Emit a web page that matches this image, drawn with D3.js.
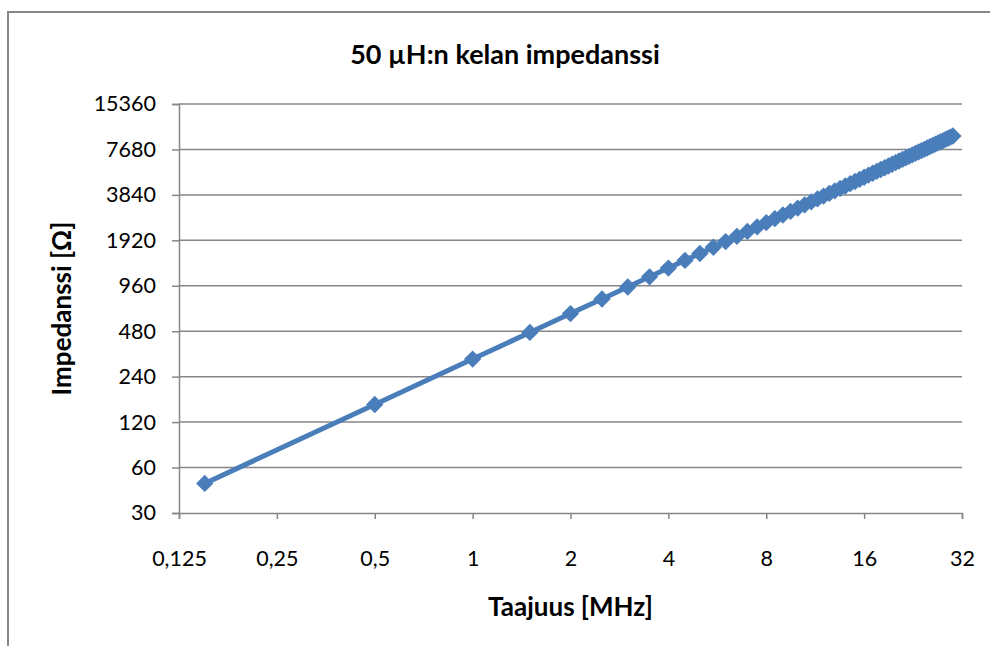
<!DOCTYPE html>
<html>
<head>
<meta charset="utf-8">
<script src="https://cdn.jsdelivr.net/npm/d3@7"></script>
<style>
  body { margin: 0; background: #fff; }
  text { font-family: Lato, "Open Sans", sans-serif; fill: #000; }
</style>
</head>
<body>
<div id="chart"></div>
<script>
// chart data: frequency in MHz, impedance in ohms
var frequencies = [0.15, 0.5, 1, 1.5, 2, 2.5, 3, 3.5, 4, 4.5, 5, 5.5, 6, 6.5, 7, 7.5, 8, 8.5, 9, 9.5,
  10, 10.5, 11, 11.5, 12, 12.5, 13, 13.5, 14, 14.5, 15, 15.5, 16, 16.5, 17, 17.5, 18, 18.5, 19, 19.5,
  20, 20.5, 21, 21.5, 22, 22.5, 23, 23.5, 24, 24.5, 25, 25.5, 26, 26.5, 27, 27.5, 28, 28.5, 29, 29.5, 30];
var impedances = [47.1, 157, 314, 471, 628, 785, 942, 1100, 1257, 1414, 1571, 1728, 1885, 2042, 2199, 2356, 2513, 2670, 2827, 2985,
  3142, 3299, 3456, 3613, 3770, 3927, 4084, 4241, 4398, 4555, 4712, 4869, 5027, 5184, 5341, 5498, 5655, 5812, 5969, 6126,
  6283, 6440, 6597, 6754, 6912, 7069, 7226, 7383, 7540, 7697, 7854, 8011, 8168, 8325, 8482, 8639, 8796, 8954, 9111, 9268, 9425];
var xTicks = [0.125, 0.25, 0.5, 1, 2, 4, 8, 16, 32];
var yTicks = [30, 60, 120, 240, 480, 960, 1920, 3840, 7680, 15360];

var chartTitle = "50 µH:n kelan impedanssi";
var xTitle = "Taajuus [MHz]";
var yTitle = "Impedanssi [Ω]";

var svgWidth = 990;
var svgHeight = 646;

// plot area inside the svg
var margin = { top: 104, right: 28, bottom: 133, left: 179 };
var width = svgWidth - margin.left - margin.right;
var height = svgHeight - margin.top - margin.bottom;

var gridColor = "#868686";
var lineColor = "#4a7ebb";

var svg = d3.select("#chart")
  .append("svg")
  .attr("width", svgWidth)
  .attr("height", svgHeight);

// outer chart frame (runs off the right and bottom edges)
svg.append("rect")
  .attr("x", 8)
  .attr("y", 12)
  .attr("width", 1100)
  .attr("height", 800)
  .attr("fill", "none")
  .attr("stroke", gridColor)
  .attr("stroke-width", 2);

var chartGroup = svg.append("g")
  .attr("transform", `translate(${margin.left}, ${margin.top})`);

var xScale = d3.scaleLog().base(2)
  .domain([0.125, 32])
  .range([0, width]);

var yScale = d3.scaleLog().base(2)
  .domain([30, 15360])
  .range([height, 0]);

// horizontal gridlines
chartGroup.append("g")
  .selectAll("line")
  .data(yTicks.slice(1))
  .enter()
  .append("line")
  .attr("x1", 0)
  .attr("x2", width)
  .attr("y1", d => yScale(d))
  .attr("y2", d => yScale(d))
  .attr("stroke", gridColor)
  .attr("stroke-width", 1.5);

// axes
var bottomAxis = d3.axisBottom(xScale)
  .tickValues(xTicks)
  .tickSize(6)
  .tickPadding(32)
  .tickFormat(d => String(d).replace(".", ","));

var leftAxis = d3.axisLeft(yScale)
  .tickValues(yTicks)
  .tickSize(7)
  .tickPadding(16)
  .tickFormat(d => d);

var xAxis = chartGroup.append("g")
  .attr("transform", `translate(0, ${height})`)
  .call(bottomAxis);

var yAxis = chartGroup.append("g")
  .call(leftAxis);

[xAxis, yAxis].forEach(function(axis) {
  axis.select(".domain").attr("stroke", gridColor).attr("stroke-width", 1.5);
  axis.selectAll(".tick line").attr("stroke", gridColor).attr("stroke-width", 1.5);
  axis.selectAll(".tick text")
    .attr("font-size", "21.5px")
    .attr("fill", "#000");
});

// series line
var line = d3.line()
  .x((d, i) => xScale(frequencies[i]))
  .y(d => yScale(d));

chartGroup.append("path")
  .datum(impedances)
  .attr("d", line)
  .attr("fill", "none")
  .attr("stroke", lineColor)
  .attr("stroke-width", 5)
  .attr("stroke-linejoin", "round");

// diamond markers
var diamond = d3.symbol().type(d3.symbolSquare).size(150);

chartGroup.selectAll(".marker")
  .data(impedances)
  .enter()
  .append("path")
  .attr("class", "marker")
  .attr("d", diamond)
  .attr("transform", (d, i) => `translate(${xScale(frequencies[i])}, ${yScale(d)}) rotate(45)`)
  .attr("fill", lineColor);

// titles
svg.append("text")
  .attr("x", 505)
  .attr("y", 64)
  .attr("text-anchor", "middle")
  .attr("font-size", "27px")
  .attr("font-weight", "bold")
  .text(chartTitle);

svg.append("text")
  .attr("x", margin.left + width / 2)
  .attr("y", 616)
  .attr("text-anchor", "middle")
  .attr("font-size", "26px")
  .attr("font-weight", "bold")
  .text(xTitle);

svg.append("text")
  .attr("transform", `translate(71, ${margin.top + height / 2}) rotate(-90)`)
  .attr("text-anchor", "middle")
  .attr("font-size", "26px")
  .attr("font-weight", "bold")
  .text(yTitle);
</script>
</body>
</html>
